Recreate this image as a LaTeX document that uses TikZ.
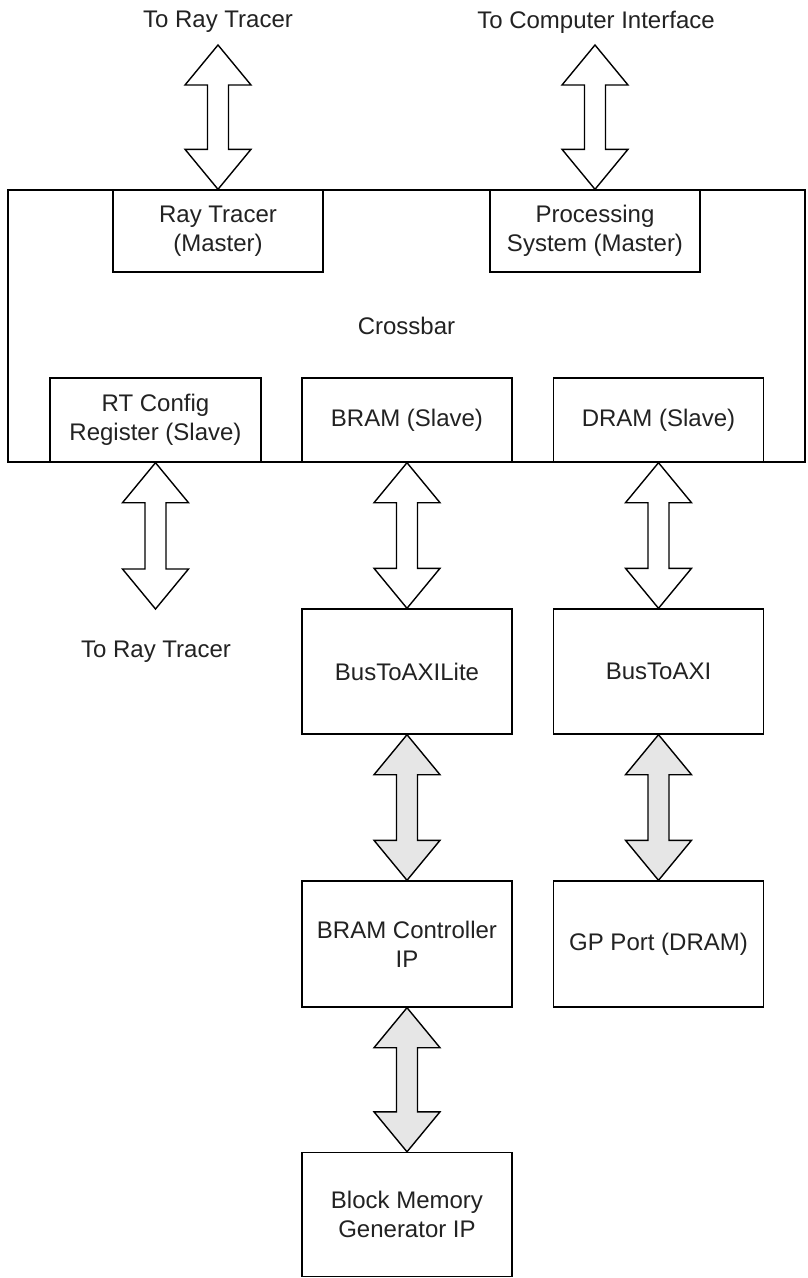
\documentclass[tikz,border=0pt]{standalone}
\usepackage{fontspec}
\setmainfont{Liberation Sans}
\usetikzlibrary{calc}
\definecolor{txt}{HTML}{222222}
\definecolor{lgrey}{HTML}{E6E6E6}
% double-headed block arrow between a top point and a bottom point
\newcommand\dblblock[3]{%
  \draw[blockarrow,fill=#1] let \p1=#2, \p2=#3 in
    (\x1,\y1) -- (\x1+33pt,\y1-40pt) -- (\x1+10.5pt,\y1-40pt) -- (\x1+10.5pt,\y2+40pt)
    -- (\x1+33pt,\y2+40pt) -- (\x1,\y2) -- (\x1-33pt,\y2+40pt) -- (\x1-10.5pt,\y2+40pt)
    -- (\x1-10.5pt,\y1-40pt) -- (\x1-33pt,\y1-40pt) -- cycle;}
\begin{document}
\begin{tikzpicture}[x=1pt,y=-1pt,
  box/.style={draw=black,line width=1.4pt,fill=white,text=txt,align=center,
    inner sep=0pt,font=\fontsize{24}{29}\selectfont},
  lbl/.style={text=txt,align=center,inner sep=0pt,font=\fontsize{24}{29}\selectfont},
  blockarrow/.style={draw=black,line width=1.4pt,line join=miter}]
\useasboundingbox[fill=white] (0,0) rectangle (807,1278);
% crossbar container
\node[box,minimum width=797pt,minimum height=272pt] (xbar) at (406.5,326) {Crossbar};
% masters
\node[box,minimum width=210pt,minimum height=82pt] (rtm) at (218,231) {Ray Tracer\\(Master)};
\node[box,minimum width=210pt,minimum height=82pt] (psm) at (595,231) {Processing\\System (Master)};
% slaves
\node[box,minimum width=211pt,minimum height=84pt] (rtc) at (155.5,420) {RT Config\\Register (Slave)};
\node[box,minimum width=210pt,minimum height=84pt] (brs) at (407,420) {BRAM (Slave)};
\node[box,minimum width=210pt,minimum height=84pt] (drs) at (658.5,420) {DRAM (Slave)};
% lower blocks
\node[box,minimum width=210pt,minimum height=125pt] (b2al) at (407,671.5) {BusToAXILite};
\node[box,minimum width=210pt,minimum height=125pt] (b2a) at (658.5,671.5) {BusToAXI};
\node[box,minimum width=210pt,minimum height=126pt] (bc) at (407,944) {BRAM Controller\\IP};
\node[box,minimum width=210pt,minimum height=126pt] (gp) at (658.5,944) {GP Port (DRAM)};
\node[box,minimum width=210pt,minimum height=124pt] (bmg) at (407,1214.5) {Block Memory\\Generator IP};
% free labels
\node[lbl] (trt1) at (218,22) {To Ray Tracer};
\node[lbl] (tci) at (596,22) {To Computer Interface};
\node[lbl] (trt2) at (156,652) {To Ray Tracer};
% free arrow ends
\coordinate (a1) at (218,45);
\coordinate (a2) at (595,45);
\coordinate (a3) at (155.5,609);
% arrows
\dblblock{white}{(a1)}{(rtm.north)}
\dblblock{white}{(a2)}{(psm.north)}
\dblblock{white}{(rtc.south)}{(a3)}
\dblblock{white}{(brs.south)}{(b2al.north)}
\dblblock{white}{(drs.south)}{(b2a.north)}
\dblblock{lgrey}{(b2al.south)}{(bc.north)}
\dblblock{lgrey}{(b2a.south)}{(gp.north)}
\dblblock{lgrey}{(bc.south)}{(bmg.north)}
\end{tikzpicture}
\end{document}
